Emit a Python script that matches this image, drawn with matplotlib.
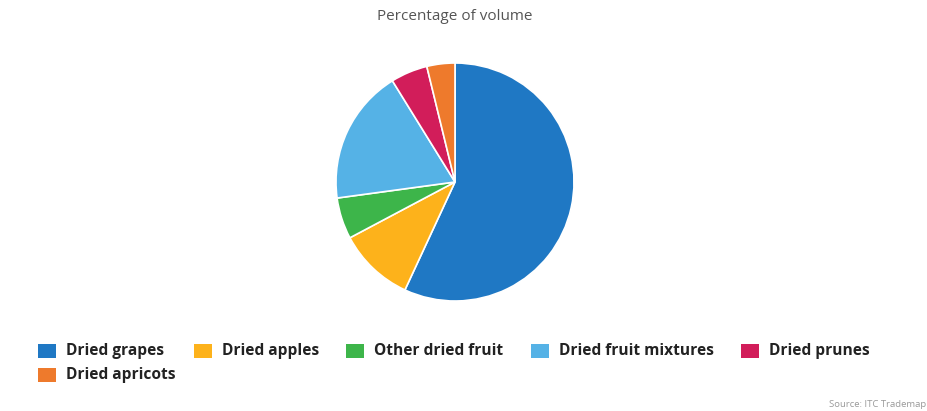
import matplotlib
matplotlib.use("Agg")
import matplotlib.pyplot as plt
from matplotlib.patches import Rectangle

categories = ["Dried grapes", "Dried apples", "Other dried fruit",
              "Dried fruit mixtures", "Dried prunes", "Dried apricots"]
values = [56.8, 10.3, 5.6, 18.3, 5.0, 3.8]
colors = ["#1f78c4", "#fdb21b", "#3db54a", "#55b2e6", "#d21d5a", "#ee7a2c"]

W, H = 927, 411
fig = plt.figure(figsize=(W / 100, H / 100), dpi=100)
fig.patch.set_facecolor("white")

cx, cy, r = 455, 182, 119
ax = fig.add_axes([(cx - r) / W, 1 - (cy + r) / H, 2 * r / W, 2 * r / H])
ax.pie(values, colors=colors, startangle=90, counterclock=False,
       wedgeprops=dict(edgecolor="white", linewidth=1.2), radius=1.0)
ax.set_xlim(-1, 1)
ax.set_ylim(-1, 1)
ax.set_aspect("equal")
ax.axis("off")

fig.text(cx / W, 1 - 17 / H, "Percentage of volume", ha="center", va="center",
         fontsize=11, color="#555555", family="Open Sans")

# legend (manual layout)
leg_pos = [(38, 351), (194, 351), (346, 351), (531, 351), (741, 351), (38, 375)]
for (x, y), lab, col in zip(leg_pos, categories, colors):
    fig.patches.append(Rectangle((x / W, 1 - (y + 7) / H), 18 / W, 14 / H,
                                 transform=fig.transFigure, facecolor=col,
                                 edgecolor="none"))
    fig.text((x + 28) / W, 1 - y / H, lab, ha="left", va="center",
             fontsize=11.2, fontweight="bold", color="#222222", family="Open Sans")

fig.text(926 / W, 1 - 404 / H, "Source: ITC Trademap", ha="right", va="center",
         fontsize=6.8, color="#999999", family="Open Sans")

fig.savefig("out.png", dpi=100)
